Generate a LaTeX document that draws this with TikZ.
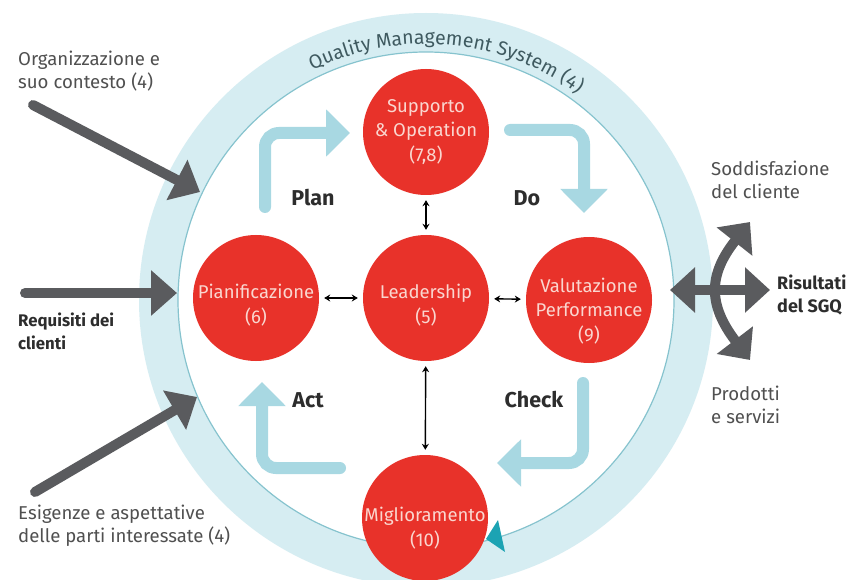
\documentclass[tikz,border=0pt]{standalone}
\usepackage{fontspec}
\setmainfont{Fira Sans}
\usetikzlibrary{arrows.meta,decorations.text}
\definecolor{ringblue}{HTML}{D6EDF2}
\definecolor{ringline}{HTML}{86C3CE}
\definecolor{pdcacol}{HTML}{A8D8E2}
\definecolor{redcol}{HTML}{E8322A}
\definecolor{redtxt}{HTML}{FAD6CF}
\definecolor{arrgray}{HTML}{5A5B5E}
\definecolor{txtgray}{HTML}{505050}
\definecolor{darktxt}{HTML}{2D2D2D}
\definecolor{qmstxt}{HTML}{3F5A60}
\definecolor{tealtri}{HTML}{1CA3B3}
\tikzset{
  redc/.style={circle, fill=redcol, minimum size=126pt, inner sep=0pt},
  redl/.style={align=center, inner sep=0pt, text=redtxt, font=\fontsize{18.5}{24.5}\selectfont},
  blkarr/.style={{Stealth[length=6pt,width=7pt]}-{Stealth[length=6pt,width=7pt]}, line width=1.4pt,
    shorten <=5pt, shorten >=5pt},
  pdcaarr/.style={draw=pdcacol, line width=12pt, line cap=round, rounded corners=14pt,
    -{Triangle[length=24pt,width=46pt]}},
  grayarr/.style={draw=arrgray, line width=10pt, line cap=round,
    -{Triangle[length=26pt,width=44pt]}},
  grayboth/.style={draw=arrgray, line width=10pt,
    {Triangle[length=25pt,width=44pt]}-{Triangle[length=25pt,width=44pt]}},
  lbl/.style={align=left, anchor=north west, inner sep=0pt, text=txtgray,
    font=\fontsize{18.6}{22.5}\selectfont},
  lblb/.style={lbl, text=darktxt, font=\fontsize{16.8}{23}\selectfont\bfseries},
  pdcalbl/.style={inner sep=0pt, text=darktxt, font=\fontsize{21.5}{24}\selectfont\bfseries}
}
\begin{document}
\begin{tikzpicture}[x=1pt,y=-1pt]
\useasboundingbox (0,0) rectangle (854,580);
\clip (0,0) rectangle (854,580);
\fill[white] (0,0) rectangle (854,580);
\coordinate (C) at (426,300);
% ring
\fill[ringblue] (C) circle[radius=287];
\fill[white] (C) circle[radius=248];
\draw[ringline, line width=1.2pt] (C) circle[radius=248];
\path[decorate, decoration={text along path, text align=center,
  text={|\fontsize{19.5}{19.5}\selectfont\color{qmstxt}|Quality Management System (4)}}]
  (C) ++(222:256) arc[start angle=222, end angle=328, radius=256];
% teal arrowhead on ring line
\fill[tealtri] (498,520) -- (486,539) -- (505,552) -- cycle;
% PDCA arrows
\coordinate (plan0) at (265,207); \coordinate (plan1) at (265,133); \coordinate (plan2) at (350,133);
\coordinate (do0) at (510,130); \coordinate (do1) at (584,130); \coordinate (do2) at (584,213);
\coordinate (chk0) at (583,383); \coordinate (chk1) at (583,463); \coordinate (chk2) at (497,463);
\coordinate (act0) at (340,468); \coordinate (act1) at (262,468); \coordinate (act2) at (262,382);
\draw[pdcaarr] (plan0) -- (plan1) -- (plan2);
\draw[pdcaarr] (do0) -- (do1) -- (do2);
\draw[pdcaarr] (chk0) -- (chk1) -- (chk2);
\draw[pdcaarr] (act0) -- (act1) -- (act2);
\node[pdcalbl] (plan) at (313,198) {Plan};
\node[pdcalbl] (do) at (527,198) {Do};
\node[pdcalbl] (act) at (308,400) {Act};
\node[pdcalbl] (check) at (534,400) {Check};
% red circles
\node[redc, label={[redl]center:{Supporto\\\& Operation\\(7,8)}}] (supp) at (426,132) {};
\node[redc, label={[redl, yshift=-7pt]center:{Leadership\\(5)}}] (lead) at (426,298) {};
\node[redc, label={[redl, yshift=-7pt]center:{Pianificazione\\(6)}}] (pian) at (256,298) {};
\node[redc, label={[redl, yshift=-11pt]center:{Valutazione\\Performance\\(9)}}] (valu) at (589,300) {};
\node[redc, label={[redl, yshift=-10pt]center:{Miglioramento\\(10)}}] (migl) at (425,518) {};
\draw[blkarr] (supp) -- (lead);
\draw[blkarr] (pian) -- (lead);
\draw[blkarr] (lead) -- (valu);
\draw[blkarr] (lead) -- (migl);
% left texts and arrows
\node[lbl] (org) at (18,51) {Organizzazione e\\suo contesto (4)};
\node[lblb] (req) at (18,313) {Requisiti dei\\clienti};
\node[lbl] (esi) at (18,505) {Esigenze e aspettative\\delle parti interessate (4)};
\coordinate (orgS) at (33,105); \coordinate (orgT) at (200,192);
\coordinate (reqS) at (25,293); \coordinate (reqT) at (177,293);
\coordinate (esiS) at (35,492); \coordinate (esiT) at (197,397);
\draw[grayarr] (orgS) -- (orgT);
\draw[grayarr] (reqS) -- (reqT);
\draw[grayarr] (esiS) -- (esiT);
% right side
\coordinate (hL) at (670,290); \coordinate (hR) at (770,290);
\coordinate (vT) at (750,222); \coordinate (vB) at (750,360);
\draw[grayboth] (hL) -- (hR);
\draw[grayboth] (vT) .. controls (708,275) and (708,305) .. (vB);
\node[lbl] (sod) at (711,161) {Soddisfazione\\del cliente};
\node[lblb, font=\fontsize{18}{23}\selectfont\bfseries] (ris) at (777,275) {Risultati\\del SGQ};
\node[lbl] (pro) at (711,386) {Prodotti\\e servizi};
\end{tikzpicture}
\end{document}
